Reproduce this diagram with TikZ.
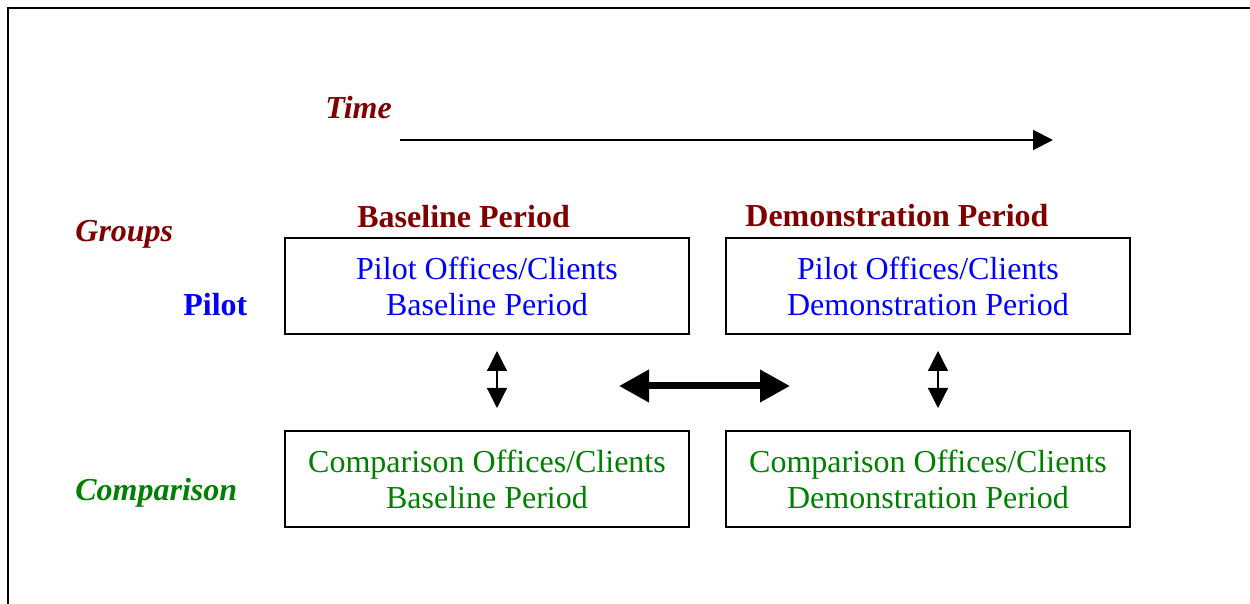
\documentclass[tikz,border=0pt]{standalone}
\usepackage{fontspec}
\setmainfont{Liberation Serif}
\usetikzlibrary{arrows.meta}
\definecolor{darkred}{RGB}{128,0,0}
\definecolor{darkgreen}{RGB}{0,128,0}
\begin{document}
\begin{tikzpicture}[x=0.5pt,y=-0.5pt,
  txt/.style={font=\fontsize{16pt}{18pt}\selectfont},
  head/.style={txt,anchor=base west,inner sep=0pt,font=\fontsize{16pt}{18pt}\selectfont\bfseries},
  periodbox/.style={txt,draw,line width=1pt,align=center,minimum width=202pt,minimum height=48pt,inner sep=0pt},
  smallarrow/.style={line width=0.6pt,{Triangle[length=10pt,width=10pt]}-{Triangle[length=10pt,width=10pt]}},
  bigarrow/.style={line width=3.5pt,{Triangle[length=15pt,width=15.5pt]}-{Triangle[length=15pt,width=15.5pt]}}]
\useasboundingbox (0,0) rectangle (1250,604);
\draw[line width=1pt] (1250,8) -- (8,8) -- (8,604);
% labels
\node[head,font=\fontsize{16pt}{18pt}\selectfont\bfseries\itshape,text=darkred] (time) at (325,119) {Time};
\node[head,font=\fontsize{16pt}{18pt}\selectfont\bfseries\itshape,text=darkred] (groups) at (75,242) {Groups};
\node[head,text=darkred] (basehead) at (357,228) {Baseline Period};
\node[head,text=darkred] (demohead) at (745,227) {Demonstration Period};
\node[head,text=blue] (pilot) at (183,316) {Pilot};
\node[head,font=\fontsize{16pt}{18pt}\selectfont\bfseries\itshape,text=darkgreen] (comp) at (75,501) {Comparison};
% boxes
\node[periodbox,text=blue] (pb) at (487,286.5) {Pilot Offices/Clients\\Baseline Period};
\node[periodbox,text=blue] (pd) at (928,286.5) {Pilot Offices/Clients\\Demonstration Period};
\node[periodbox,text=darkgreen] (cb) at (487,479) {Comparison Offices/Clients\\Baseline Period};
\node[periodbox,text=darkgreen] (cd) at (928,479) {Comparison Offices/Clients\\Demonstration Period};
% arrows
\coordinate (t0) at (400,140);
\coordinate (t1) at (1053,140);
\coordinate (b0) at (497,351);
\coordinate (b1) at (497,408);
\coordinate (d0) at (938,351);
\coordinate (d1) at (938,408);
\coordinate (m0) at (619,386);
\coordinate (m1) at (790,386);
\draw[line width=1pt,-{Triangle[length=10pt,width=10pt]}] (t0) -- (t1);
\draw[smallarrow] (b0) -- (b1);
\draw[smallarrow] (d0) -- (d1);
\draw[bigarrow] (m0) -- (m1);
\end{tikzpicture}
\end{document}
